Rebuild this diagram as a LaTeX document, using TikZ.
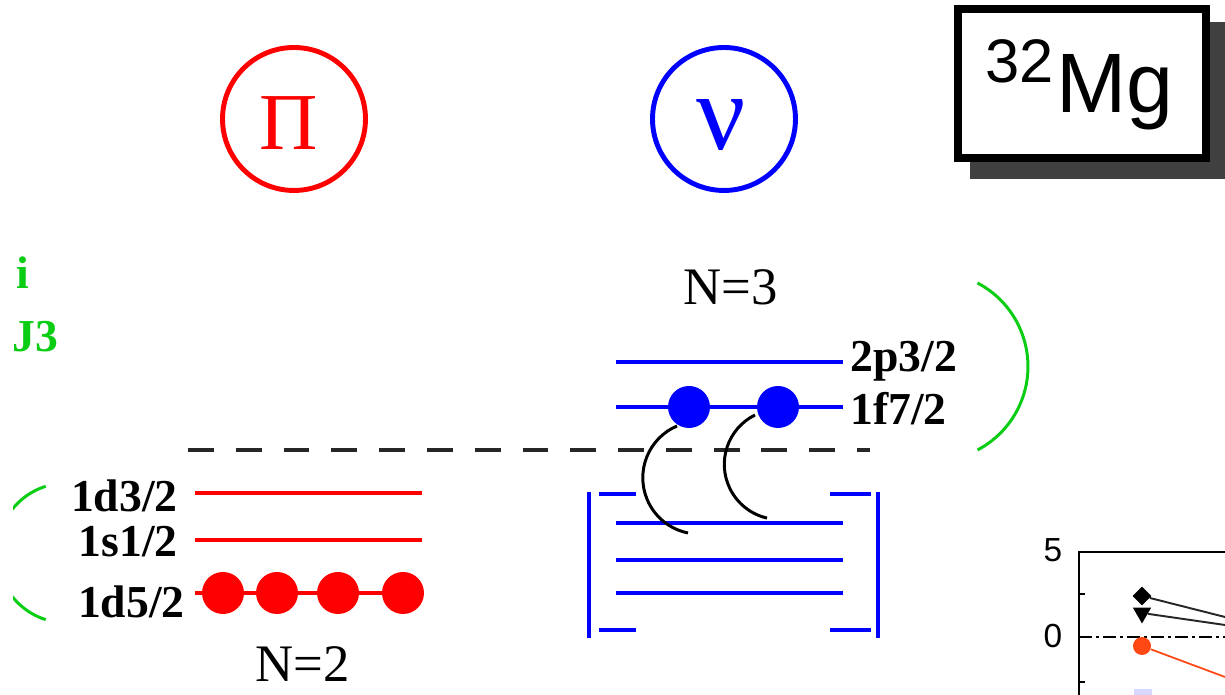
\documentclass[tikz,border=0pt]{standalone}
\usepackage{fontspec}
\setmainfont{Liberation Serif}
\newfontfamily\arialf{Liberation Sans}
\usetikzlibrary{shapes.geometric}
\definecolor{pred}{RGB}{255,0,0}
\definecolor{nblue}{RGB}{0,0,255}
\definecolor{sgreen}{RGB}{10,205,20}
\definecolor{shadowgray}{RGB}{64,64,64}
\definecolor{dotorange}{RGB}{255,72,20}
\definecolor{paleblue}{RGB}{215,215,255}
\begin{document}
\begin{tikzpicture}[x=0.02cm,y=0.02cm,
  lvlred/.style={draw=pred,line width=2.3pt},
  lvlblue/.style={draw=nblue,line width=2.3pt},
  orblabel/.style={font=\fontsize{26}{28}\selectfont\bfseries,inner sep=0pt},
  shelllabel/.style={font=\fontsize{30}{32}\selectfont,inner sep=0pt,anchor=base},
  pdot/.style={circle,fill=pred,inner sep=0pt,minimum size=0.84cm},
  ndot/.style={circle,fill=nblue,inner sep=0pt,minimum size=0.84cm},
  greenarc/.style={draw=sgreen,line width=1.7pt},
  pairarc/.style={draw=black,line width=1.7pt},
  axisline/.style={draw=black,line width=1.1pt},
  ticklabel/.style={font=\arialf\fontsize{19}{20}\selectfont,inner sep=0pt},
  datline/.style={draw=black!85,line width=1.1pt}]
\useasboundingbox (0,0) rectangle (1225,695);
\clip (0,0) rectangle (1225,695);

% --- proton / neutron symbols
\node[circle,draw=pred,line width=2.8pt,minimum size=2.86cm,inner sep=0pt] (pcirc) at (294,576) {};
\node[text=pred,font=\fontsize{46}{50}\selectfont,anchor=base,inner sep=0pt] (pisym) at (288.5,545) {Π};
\node[circle,draw=nblue,line width=2.8pt,minimum size=2.86cm,inner sep=0pt] (ncirc) at (724,576) {};
\node[text=nblue,font=\fontsize{62}{66}\selectfont,anchor=base,inner sep=0pt] (nusym) at (721,545) {ν};

% --- 32Mg box
\fill[shadowgray] (970,516) rectangle (1235,673);
\node[draw=black,fill=white,line width=4.5pt,minimum width=4.96cm,minimum height=2.98cm,inner sep=0pt] (mgbox) at (1082,611.5) {};
\node[anchor=base west,font=\arialf\fontsize{35}{36}\selectfont,inner sep=0pt] (mgmass) at (985,612) {32};
\node[anchor=base west,font=\arialf\fontsize{48}{50}\selectfont,inner sep=0pt] (mgname) at (1056,582) {Mg};

% --- content cut off at the left edge
\begin{scope}
\clip (13,0) rectangle (1225,695);
\node[text=sgreen,font=\fontsize{26}{28}\selectfont\bfseries,anchor=base,inner sep=0pt] (gtxta) at (23,406) {i};
\node[text=sgreen,font=\fontsize{26}{28}\selectfont\bfseries,anchor=base west,inner sep=0pt] (gtxtb) at (12,343) {J3};
\draw[greenarc] (45.7,208.7) arc[start angle=107.7,end angle=252.3,radius=70];
\end{scope}

% --- green bracket right
\draw[greenarc] (977.5,412) arc[start angle=62.3,end angle=-62.3,radius=94.3];

% --- Fermi level dashed line
\coordinate (fermiL) at (188,245);
\coordinate (fermiR) at (870,245);
\draw[draw=black!85,line width=2.3pt,dash pattern=on 14.7pt off 12.5pt] (fermiL) -- (fermiR);

% --- proton levels
\coordinate (pa1) at (195,202); \coordinate (pa2) at (422,202);
\coordinate (pb1) at (195,155); \coordinate (pb2) at (422,155);
\coordinate (pc1) at (195,102); \coordinate (pc2) at (422,102);
\draw[lvlred] (pa1) -- (pa2);
\draw[lvlred] (pb1) -- (pb2);
\draw[lvlred] (pc1) -- (pc2);
\node[pdot] (p1) at (223,102) {};
\node[pdot] (p2) at (277,102) {};
\node[pdot] (p3) at (338,102) {};
\node[pdot] (p4) at (403,102) {};
\node[orblabel,anchor=base east] (l1d3) at (178,183) {1d3/2};
\node[orblabel,anchor=base east] (l1s1) at (178,138) {1s1/2};
\node[orblabel,anchor=base east] (l1d5) at (185,77) {1d5/2};
\node[shelllabel] (nz2) at (303,13) {N=2};

% --- neutron levels
\coordinate (na1) at (616,333); \coordinate (na2) at (843,333);
\coordinate (nb1) at (616,288); \coordinate (nb2) at (843,288);
\coordinate (nc1) at (616,172); \coordinate (nc2) at (843,172);
\coordinate (nd1) at (616,135); \coordinate (nd2) at (843,135);
\coordinate (ne1) at (616,102); \coordinate (ne2) at (843,102);
\draw[lvlblue] (na1) -- (na2);
\draw[lvlblue] (nb1) -- (nb2);
\draw[lvlblue] (nc1) -- (nc2);
\draw[lvlblue] (nd1) -- (nd2);
\draw[lvlblue] (ne1) -- (ne2);
% brackets round the sd shell
\draw[lvlblue] (589,203) -- (589,57);
\draw[lvlblue] (599,201) -- (636,201);
\draw[lvlblue] (599,65) -- (636,65);
\draw[lvlblue] (878,203) -- (878,57);
\draw[lvlblue] (830,201) -- (871,201);
\draw[lvlblue] (830,65) -- (871,65);
\node[ndot] (n1) at (689,288) {};
\node[ndot] (n2) at (778,288) {};
\node[orblabel,anchor=base west] (l2p3) at (850,323) {2p3/2};
\node[orblabel,anchor=base west] (l1f7) at (850,270) {1f7/2};
\node[shelllabel] (nz3) at (731,390) {N=3};

% --- pair excitation arcs
\draw[pairarc] (677,269) arc[start angle=113.1,end angle=258.6,radius=56.3];
\draw[pairarc] (755,280) arc[start angle=116.3,end angle=257,radius=55.1];

% --- partial graph at bottom right
\draw[axisline] (1079,-5) -- (1079,143) -- (1235,143);
\draw[axisline] (1079,101) -- (1085,101);
\draw[axisline] (1079,13) -- (1085,13);
\node[ticklabel] (t5) at (1053,145) {5};
\node[ticklabel] (t0) at (1053,59) {0};
\draw[draw=black,line width=1.1pt,dash pattern=on 7.4pt off 2.3pt on 1.7pt off 2.3pt] (1079,58) -- (1235,58);
\coordinate (diaend) at (1225,78);
\coordinate (triend) at (1225,70);
\coordinate (cirend) at (1225,18);
\node[diamond,fill=black,inner sep=0pt,minimum size=0.38cm] (dia) at (1142,99) {};
\node[regular polygon,regular polygon sides=3,shape border rotate=180,fill=black,inner sep=0pt,minimum size=0.42cm] (tri) at (1142,82) {};
\node[circle,fill=dotorange,inner sep=0pt,minimum size=0.36cm] (cir) at (1142,49) {};
\draw[datline] (dia) -- (diaend);
\draw[datline] (tri) -- (triend);
\draw[draw=dotorange,line width=1pt] (cir) -- (cirend);
\node[fill=paleblue,inner sep=0pt,minimum size=0.36cm] (sq) at (1143,-3) {};
\end{tikzpicture}
\end{document}
